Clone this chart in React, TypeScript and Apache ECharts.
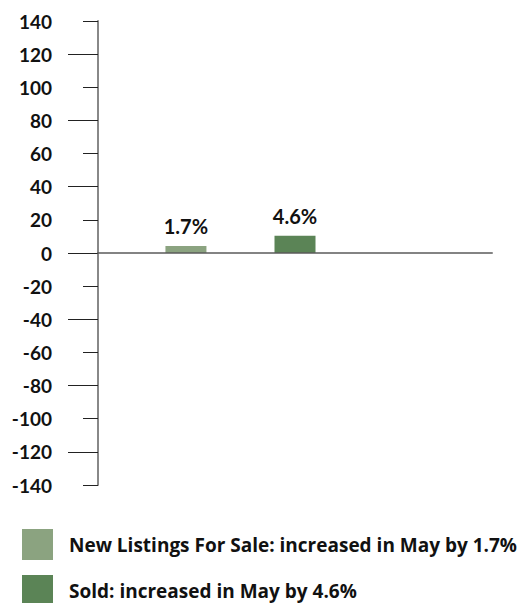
import React, { useEffect, useRef } from "react";
import * as echarts from "echarts";

const categories = ["May"];
const seriesNames = [
  "New Listings For Sale: increased in May by 1.7%",
  "Sold: increased in May by 4.6%",
];
const newListingsValues = [4.2];
const soldValues = [10.4];
const barLabels = ["1.7%", "4.6%"];
const yTickValues = [-140, -120, -100, -80, -60, -40, -20, 0, 20, 40, 60, 80, 100, 120, 140];

const FONT = "Lato, 'Open Sans', sans-serif";
const LEGEND_FONT = "'Open Sans', Lato, sans-serif";

export default function App() {
  const ref = useRef<HTMLDivElement>(null);
  useEffect(() => {
    if (!ref.current) return;
    const chart = echarts.init(ref.current, null, { renderer: "svg" });
    const yMin = yTickValues[0];
    const yMax = yTickValues[yTickValues.length - 1];
    const labelStyle = {
      show: true,
      position: "top" as const,
      distance: 10,
      color: "#111",
      fontFamily: FONT,
      fontWeight: "bold" as const,
      fontSize: 20,
    };
    chart.setOption({
      animation: false,
      grid: { left: 98, right: 31, top: 21, bottom: 118, containLabel: false },
      legend: {
        data: seriesNames,
        orient: "vertical",
        left: 17,
        top: 524,
        height: 120,
        itemWidth: 31,
        itemHeight: 31,
        itemGap: 15,
        icon: "rect",
        selectedMode: false,
        textStyle: {
          color: "#111",
          fontFamily: LEGEND_FONT,
          fontWeight: "bold",
          fontSize: 19,
          padding: [0, 0, 0, 11],
        },
      },
      xAxis: {
        type: "category",
        data: categories,
        z: 5,
        axisLine: { show: true, onZero: true, lineStyle: { color: "rgba(90,90,90,0.75)", width: 2 } },
        axisTick: { show: false },
        axisLabel: { show: false },
        splitLine: { show: false },
      },
      yAxis: [
        {
          type: "value",
          min: yMin,
          max: yMax,
          interval: 20,
          position: "left",
          axisLine: { show: true, lineStyle: { color: "#888", width: 2 } },
          axisTick: { show: true, length: 15, lineStyle: { color: "#222", width: 1 } },
          axisLabel: {
            margin: 46,
            color: "#111",
            fontFamily: FONT,
            fontWeight: "bold",
            fontSize: 19,
          },
          splitLine: { show: false },
        },
        {
          type: "value",
          min: yMin,
          max: yMax,
          interval: 40,
          position: "left",
          axisLine: { show: false },
          axisTick: { show: false },
          axisLabel: { show: false },
          minorTick: { show: true, splitNumber: 2, length: 30, lineStyle: { color: "#222", width: 1 } },
          splitLine: { show: false },
          minorSplitLine: { show: false },
        },
      ],
      series: [
        {
          name: seriesNames[0],
          type: "bar",
          data: newListingsValues,
          barWidth: 41,
          barGap: "166%",
          itemStyle: { color: "#8ba380" },
          label: { ...labelStyle, formatter: () => barLabels[0] },
        },
        {
          name: seriesNames[1],
          type: "bar",
          data: soldValues,
          barWidth: 41,
          barGap: "166%",
          itemStyle: { color: "#5b8456" },
          label: { ...labelStyle, formatter: () => barLabels[1] },
        },
        {
          name: "placeholder",
          type: "bar",
          data: [null],
          barWidth: 41,
          barGap: "166%",
        },
      ],
    });
    return () => chart.dispose();
  }, []);
  return <div ref={ref} style={{ width: 523, height: 603, position: "absolute", left: 0, top: 0 }} />;
}
